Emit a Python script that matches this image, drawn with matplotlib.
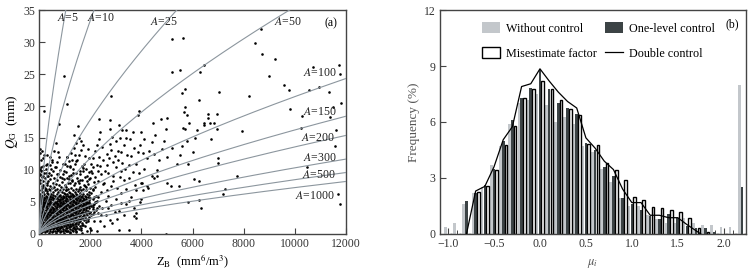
import numpy as np
import matplotlib
matplotlib.use("Agg")
import matplotlib.pyplot as plt
from matplotlib.patches import Patch
from matplotlib.lines import Line2D

plt.rcParams["font.family"] = ["Liberation Serif", "DejaVu Serif"]
plt.rcParams["mathtext.fontset"] = "stix"
plt.rcParams["font.size"] = 8.5

# ---- panel (a) data: Z_B (mm^6/m^3), Q_G (mm)
pts_sparse = """
196 19.2 966 24.7 1072 20.3 783 17.2 1502 16.8 1358 15.5 2806 21.5 2324 17.9 2375 15.9
2767 17.8 2767 16.4 3130 17.1 3236 16.3 3381 16.3 3655 16.0 3862 18.6 3901 19.2 3968 15.9
4437 17.4 4516 15.5 4750 17.9 4946 16.4 5009 18.2 5193 30.5 5193 25.3 5506 25.7 5623 30.7
5596 22.0 5713 22.6 5662 19.0 5701 19.8 5768 18.6 5846 17.3 5623 16.6 5701 16.4 6159 16.3
6237 21.0 6445 26.4 6288 25.3 6613 18.75 6613 18.1 6445 17.4 6460 17.1 6680 17.4 6848 17.4
6966 18.75 6953 16.4 7043 22.2 7920 16.1 8218 21.6 8441 29.9 8664 32.0 8726 28.1 9212 27.4
9001 24.7 9588 23.3 9760 22.5 9810 19.6 10268 18.5 10722 26.1 10566 22.45 10957 22.9
11348 22.2 11375 18.3 11481 19.8 11727 26.4 11766 25.0 11794 20.5 11610 16.3 10241 16.6
11571 13.75 10462 10.4 7748 9.1 11702 6.25 11766 4.6 7267 7.0 7202 6.2 6980 11.9 7004 11.1
6706 14.8 6315 4.0 6260 5.3 6053 8.6 6260 8.2 5830 10.9 5506 12.4 5830 5.0 5478 7.5
5142 7.5 5009 8.0 4958 0.0 4617 9.1 4500 8.7 4202 7.5 4070 6.9 4004 7.9 3940 5.0 3771 3.3
3771 2.5 3700 2.8 3522 0.6 3130 0.6 3130 3.6 2767 2.1 2375 2.0 2010 0.6 1659 0.1 1659 1.4
2113 3.9
"""

pts_mid = """
50 0.5 80 1.2 120 2.0 60 2.8 150 3.5 100 4.2 200 4.8 70 5.3 180 5.6 250 5.0 30 6.0 130 6.5
90 7.5 210 7.2 40 9.2 160 9.0 260 9.5 60 10.5 280 10.8 40 13.3 120 13.0 200 12.4 300 11.0
350 9.0 450 10.2 600 10.5 700 11.2 760 12.0 740 9.3 500 11.5 560 12.9 650 14.2 420 12.0
880 8.7 960 9.8 1020 11.0 1100 12.0 1200 10.6 1300 11.5 1400 12.3 1300 8.5 1450 9.5
1550 7.0 1600 8.5 1700 9.8 1750 11.0 1800 12.2 1900 13.3 2000 8.8 2050 9.6 2100 10.5
2200 7.4 2300 8.2 2400 9.3 2250 10.8 2350 12.0 2450 13.6 1650 14.6 1550 15.0 2000 1.0
2150 2.0 2300 3.2 2450 4.0 1900 2.3 2000 3.5 2100 4.2 2200 5.0 2300 5.8 2400 6.5
2600 5.2 2700 6.0 2800 7.5 2900 9.0 3000 10.5 3100 11.6 3200 12.8 3300 13.9 3400 15.0
2650 12.5 2750 14.0 2850 15.2 3000 14.5 3100 13.0 3200 9.8 3300 8.5 3400 7.0 3500 10.8
3600 12.2 3700 13.5 3800 11.0 3900 9.5 4000 8.0 4100 10.2 4200 11.8 4300 13.0 4400 14.3
4500 12.5 4600 10.0 4700 11.5 4800 13.2 4900 14.6 2600 3.0 2800 4.5 3000 5.5 3200 6.4
3400 4.6 3600 5.8 3800 6.8 4000 5.5 2700 9.5 2900 11.2 3150 15.0 3550 14.8 4100 14.8
4400 9.0 5000 12.0 5200 13.5 5400 11.0 5600 13.8 5800 14.5 6000 12.8 6100 15.0 3300 3.0
3700 4.0 2500 11.5 2550 8.0 2650 6.8 4250 7.2 720 0.6 1100 0.5 1380 0.7 1780 1.2
1050 6.8 1120 7.9 1180 8.6 1250 9.2 1330 10.1 1400 10.9 1480 11.6 1560 12.4 1620 13.1
1700 13.9 1080 10.6 1170 11.4 1260 12.7 1350 13.5 1440 14.2 1530 8.2 1610 9.4 1690 10.6
1770 7.5 1850 8.3 1930 9.7 2010 10.9 2090 11.8 2170 12.9 2260 13.9 2340 14.8 1820 10.1
1960 11.9 2110 6.9 2190 8.9 2280 9.9 2380 10.6 2480 7.8 2560 9.9 2640 10.8 2720 11.9
2800 13.1 2880 8.3 2960 12.2 3060 7.2 3140 8.9 3230 11.1 3350 10.2 3450 12.4 3520 8.8
3650 9.7 3750 7.6 3850 12.8 3950 13.9 4050 12.6 1200 0.2 1450 0.3 1620 0.6 1880 0.5
2240 0.4 2550 1.2 2850 1.7 3050 2.4 2420 2.9 2680 4.1 2950 3.5 3180 4.9 3500 5.2
"""

# dense cluster near the origin: one row per Z value, then the Q values seen there
cluster_rows = """
15: 0.3 1.1 2.2 3.4 4.1 5.2 5.8 7.9 9.4 12.6
45: 0.6 1.5 2.0 2.9 3.7 4.6 5.5 6.3 8.4 10.2
75: 0.2 0.9 1.7 2.5 3.2 4.0 4.9 5.6 6.8 9.8 11.6
105: 0.5 1.3 2.1 2.8 3.6 4.4 5.1 5.9 7.2 8.9
135: 0.8 1.6 2.4 3.1 3.9 4.7 5.4 6.1 7.7 10.6
165: 0.4 1.2 1.9 2.7 3.5 4.3 5.0 5.7 6.6 8.2 11.9
195: 0.7 1.4 2.3 3.0 3.8 4.5 5.3 6.2 7.4 9.6
225: 0.3 1.0 1.8 2.6 3.3 4.2 4.8 5.6 6.9 8.7
255: 0.6 1.5 2.2 2.9 3.7 4.4 5.2 6.0 7.1 10.1
285: 0.9 1.7 2.5 3.3 4.0 4.9 5.5 6.4 8.0 9.1
315: 0.4 1.2 2.0 2.8 3.5 4.3 5.1 5.8 6.7 7.6 12.3
345: 0.7 1.6 2.3 3.1 3.9 4.6 5.4 6.2 8.3
375: 0.2 1.1 1.9 2.7 3.4 4.1 4.8 5.5 7.0 9.5
405: 0.8 1.4 2.2 3.0 3.7 4.5 5.2 6.0 6.8 10.8
435: 0.5 1.3 2.1 2.9 3.6 4.4 5.0 5.8 7.5 8.6
465: 1.0 1.7 2.4 3.2 3.9 4.7 5.4 6.3 9.2
495: 0.3 1.2 2.0 2.7 3.5 4.2 4.9 5.7 7.2 11.3
525: 0.7 1.5 2.3 3.0 3.8 4.6 5.3 6.1 8.0
555: 0.4 1.1 1.9 2.6 3.4 4.1 4.8 5.6 6.6 9.9
585: 0.9 1.6 2.4 3.2 3.9 4.7 5.5 7.3 8.8
615: 0.5 1.3 2.1 2.8 3.6 4.3 5.0 5.9 6.9
645: 0.2 1.0 1.8 2.5 3.3 4.0 4.8 5.6 7.8 10.4
675: 0.8 1.5 2.2 3.0 3.7 4.5 5.2 6.2 8.5
705: 0.4 1.2 2.0 2.7 3.5 4.2 4.9 5.7 7.1 9.4
735: 1.1 1.7 2.4 3.1 3.8 4.6 5.4 6.5 12.8
765: 0.6 1.4 2.2 2.9 3.6 4.4 5.1 5.9 7.6
795: 0.3 1.0 1.9 2.6 3.4 4.1 4.8 5.5 6.8 8.9
825: 0.9 1.6 2.3 3.1 3.8 4.5 5.3 6.1 10.0
855: 0.5 1.3 2.1 2.8 3.5 4.3 5.0 5.8 7.3
885: 1.1 1.8 2.5 3.2 3.9 4.7 5.5 6.6 8.1
915: 0.4 1.5 2.2 3.0 3.7 4.4 5.2 6.0 9.3
945: 0.8 1.7 2.4 3.3 4.0 4.8 5.6 7.0 11.0
975: 0.2 1.2 2.0 2.7 3.5 4.2 4.9 5.7 6.4 8.6
1005: 0.6 1.5 2.3 3.0 3.8 4.5 5.3 6.2 7.7
1035: 1.0 1.8 2.6 3.4 4.1 4.9 5.6 6.8 9.7
1065: 0.4 1.3 2.1 2.9 3.6 4.4 5.1 5.9 7.4
1095: 0.9 1.6 2.4 3.2 3.9 4.7 5.4 6.3 8.8 12.1
1125: 0.5 1.4 2.2 3.0 3.7 4.5 5.2 6.0 7.0
1155: 1.1 1.9 2.7 3.5 4.2 5.0 5.8 6.6 9.0
1185: 0.3 1.2 2.0 2.8 3.5 4.3 5.1 5.9 7.9
1215: 0.8 1.6 2.5 3.3 4.0 4.8 5.5 6.4 10.5
1245: 1.3 2.1 2.9 3.7 4.4 5.2 6.0 7.2
1275: 0.6 1.5 2.3 3.1 3.9 4.6 5.4 6.2 8.3
1305: 1.0 1.9 2.7 3.5 4.2 5.0 5.7 6.9
1335: 0.4 1.4 2.2 3.0 3.8 4.5 5.3 6.1 9.6
1365: 1.1 2.0 2.8 3.6 4.3 5.1 5.9 7.6
1395: 0.7 1.6 2.5 3.3 4.1 4.8 5.6 6.5 8.0
1425: 1.3 2.2 3.0 3.8 4.6 5.4 6.3 11.4
1455: 0.5 1.7 2.6 3.4 4.2 5.0 5.8 7.1
1485: 1.0 2.0 2.9 3.7 4.5 5.3 6.1 8.7
1515: 1.5 2.4 3.2 4.0 4.8 5.6 6.7
1545: 0.8 1.9 2.8 3.6 4.4 5.2 6.0 7.9
1575: 1.3 2.3 3.1 3.9 4.7 5.5 6.4 9.8
1605: 2.0 2.9 3.7 4.5 5.3 6.2 7.3
1635: 1.0 2.5 3.3 4.1 4.9 5.7 6.8
1665: 1.7 2.7 3.5 4.3 5.1 6.0 8.4
1695: 2.3 3.2 4.0 4.8 5.6 7.0
1725: 1.4 2.8 3.7 4.5 5.3 6.3 10.3
1755: 2.1 3.0 3.9 4.7 5.5 7.7
1785: 2.6 3.5 4.3 5.1 6.0 8.9
1815: 1.8 3.2 4.1 4.9 5.8 6.9
1845: 2.4 3.8 4.6 5.4 7.4
1875: 3.0 4.2 5.0 6.2 9.1
1905: 2.0 3.6 4.8 5.7 7.8
1935: 3.3 4.4 5.3 6.6
1965: 2.7 4.0 5.0 6.1 8.6
1995: 3.5 4.7 5.6 7.2
2025: 2.9 4.3 6.4 9.9
2085: 3.1 4.5 5.5 7.0
2145: 3.4 4.7 5.8 8.1
2205: 3.7 5.0 6.0
2265: 4.0 5.2
2325: 4.3
"""

# curves Q = q_end * (Z/12000)^p, q_end read at right edge (or extrapolated)
a_values = [5, 10, 25, 50, 100, 150, 200, 300, 500, 1000]
q_end = [185, 113, 60.4, 40.2, 24.3, 18.4, 15.4, 11.7, 9.6, 8.2]
curve_pow = 0.68
label_z = [690, 1880, 4330, 9180, 10330, 10300, 10260, 10300, 10270, 10000]
label_q = [33.8, 33.8, 33.2, 33.2, 25.2, 19.0, 15.0, 11.8, 9.2, 5.9]

# ---- panel (b) data
centers = [-1.0, -0.9, -0.8, -0.7, -0.6, -0.5, -0.4, -0.3, -0.2, -0.1, 0.0, 0.1, 0.2,
           0.3, 0.4, 0.5, 0.6, 0.7, 0.8, 0.9, 1.0, 1.1, 1.2, 1.3, 1.4, 1.5, 1.6, 1.7,
           1.8, 1.9, 2.0, 2.1, 2.2]
without = [0.35, 0.6, 1.6, 2.2, 2.5, 3.7, 4.7, 5.9, 7.0, 7.2, 7.5, 6.9, 6.0, 6.25, 5.9,
           4.7, 4.4, 3.5, 2.8, 1.9, 1.5, 1.5, 1.0, 0.8, 0.6, 0.6, 0.87, 0.59, 0.48, 0.48,
           0.39, 0.35, 8.0]
one_level = [0.0, 0.0, 1.75, 2.2, 2.6, 3.5, 5.0, 6.1, 7.3, 7.8, 8.8, 7.75, 7.0, 6.75,
             6.45, 4.9, 4.5, 3.6, 3.1, 1.9, 1.6, 1.3, 0.95, 0.78, 1.07, 0.84, 0.4, 0.3,
             0.3, 0.12, 0.0, 0.0, 2.5]
misestimate = [0.0, 0.0, 0.0, 2.25, 2.55, 3.45, 4.75, 5.8, 7.3, 7.75, 8.2, 7.75, 7.2,
               6.7, 6.4, 4.8, 4.75, 3.8, 3.45, 2.9, 2.0, 1.8, 1.43, 1.37, 1.28, 1.2,
               0.84, 0.3, 0.1, 0.0, 0.0, 0.0, 0.0]
line_x = [-0.8, -0.7, -0.6, -0.5, -0.4, -0.3, -0.2, -0.1, 0.0, 0.1, 0.2, 0.3, 0.4, 0.5,
          0.6, 0.7, 0.8, 0.9, 1.0, 1.1, 1.2, 1.3, 1.4, 1.5, 1.6, 1.75]
double = [0.0, 2.3, 2.55, 3.6, 5.05, 5.75, 7.9, 8.05, 8.85, 8.2, 7.6, 7.1, 6.75, 5.15,
          4.6, 3.9, 3.45, 2.4, 1.68, 1.68, 1.0, 1.0, 0.87, 0.87, 0.5, 0.0]

light_c = "#c3c7cb"
dark_c = "#3c4345"
axis_c = "#444444"

fig = plt.figure(figsize=(7.48, 2.72), dpi=100)
ax1 = fig.add_axes([0.0525, 0.14, 0.41, 0.823])
ax2 = fig.add_axes([0.588, 0.14, 0.409, 0.823])

# panel a
sp = np.array(pts_sparse.split(), dtype=float).reshape(-1, 2)
md = np.array(pts_mid.split(), dtype=float).reshape(-1, 2)
cl = []
for row in cluster_rows.strip().splitlines():
    zs, qs = row.split(":")
    for q in qs.split():
        cl.append((float(zs), float(q)))
allp = np.vstack([sp, md, np.array(cl)])
ax1.scatter(allp[:, 0], allp[:, 1], s=3.5, c="black", linewidths=0, zorder=2)

z = np.linspace(0, 12000, 400)
for a, q, lz, lq in zip(a_values, q_end, label_z, label_q):
    ax1.plot(z, q * (z / 12000) ** curve_pow, color="#8c969e", lw=0.8, zorder=3)
    ax1.text(lz, lq, f"$A$={a}", fontsize=8.5, va="center", ha="left", color="#222222",
             zorder=4)
ax1.text(11150, 33.0, "(a)", fontsize=8.5, va="center", ha="left")

ax1.set_xlim(0, 12000)
ax1.set_ylim(0, 35)
ax1.set_xticks(range(0, 12001, 2000))
ax1.set_yticks(range(0, 36, 5))
ax1.set_xlabel(r"Z$_{\rm B}$  (mm$^6$/m$^3$)", labelpad=2, fontsize=9)
ax1.set_ylabel(r"$Q_{\rm G}$  (mm)", labelpad=2, fontsize=9.5)

# panel b
w = 0.028
c = np.array(centers)
ax2.bar(c - 0.03, without, width=w, color=light_c, zorder=2)
ax2.bar(c, one_level, width=w, color=dark_c, zorder=2)
ax2.bar(c + 0.03, misestimate, width=w, color="white", edgecolor="black", lw=1.0,
        zorder=2)
ax2.plot(line_x, double, color="black", lw=0.9, zorder=3)

ax2.set_xlim(-1.09, 2.24)
ax2.set_ylim(0, 12)
ax2.set_xticks([-1.0, -0.5, 0.0, 0.5, 1.0, 1.5, 2.0])
ax2.set_xticklabels(["\u22121.0", "\u22120.5", "0.0", "0.5", "1.0", "1.5", "2.0"])
ax2.set_xticks(np.arange(-1.0, 2.21, 0.1), minor=True)
ax2.set_yticks([0, 3, 6, 9, 12])
ax2.set_xlabel(r"$\mu_i$", labelpad=5, color="#555555", fontsize=9)
ax2.set_ylabel("Frequency (%)", labelpad=3, color="#555555", fontsize=9.5)
ax2.text(0.955, 0.935, "(b)", transform=ax2.transAxes, fontsize=8.5, ha="center",
         va="center")

handles = [Patch(facecolor=light_c), Patch(facecolor="white", edgecolor="black"),
           Patch(facecolor=dark_c), Line2D([0], [0], color="black", lw=0.9)]
labels = ["Without control", "Misestimate factor", "One-level control", "Double control"]
ax2.legend(handles, labels, ncol=2, loc="upper left", bbox_to_anchor=(0.105, 0.99),
           frameon=False, fontsize=8.7, handlelength=1.5, handleheight=1.0,
           columnspacing=0.7, handletextpad=0.5, labelspacing=1.05, borderpad=0.3)

for ax in (ax1, ax2):
    for s in ax.spines.values():
        s.set_color(axis_c)
        s.set_linewidth(1.0)
    ax.tick_params(direction="in", length=4, width=0.8, color=axis_c, labelsize=8.5,
                   labelcolor="#333333", pad=3)
    ax.tick_params(which="minor", direction="in", length=3, width=0.7, color=axis_c)

fig.savefig("out.png", dpi=100)
